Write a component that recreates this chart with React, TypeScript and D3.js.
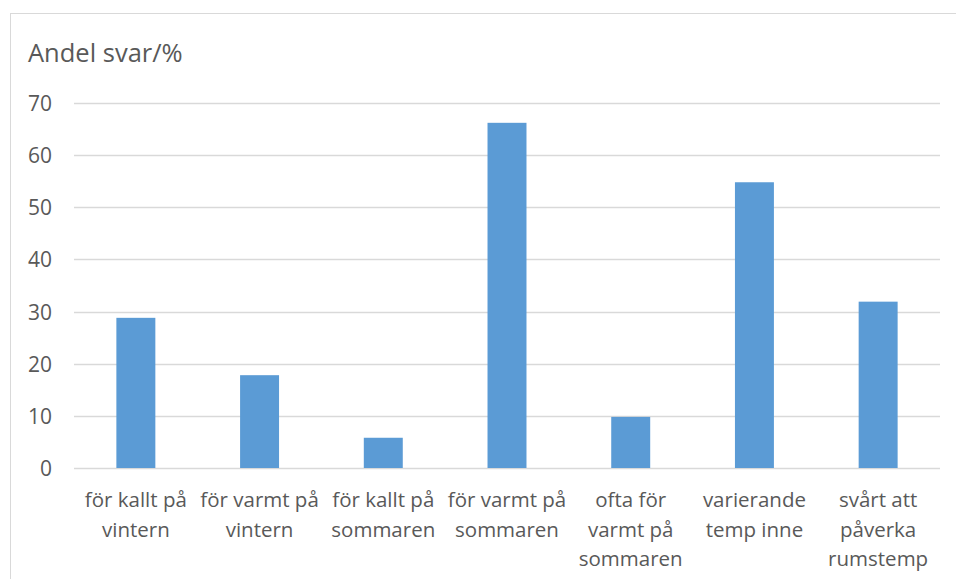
import * as d3 from "d3";

const categories = [
  "för kallt på vintern",
  "för varmt på vintern",
  "för kallt på sommaren",
  "för varmt på sommaren",
  "ofta för varmt på sommaren",
  "varierande temp inne",
  "svårt att påverka rumstemp",
];
// tick label lines as wrapped in the original
const labelLines = [
  ["för kallt på", "vintern"],
  ["för varmt på", "vintern"],
  ["för kallt på", "sommaren"],
  ["för varmt på", "sommaren"],
  ["ofta för", "varmt på", "sommaren"],
  ["varierande", "temp inne"],
  ["svårt att", "påverka", "rumstemp"],
];
const values = [28.8, 17.8, 5.8, 66.2, 9.8, 54.8, 31.9];
const yTicks = [0, 10, 20, 30, 40, 50, 60, 70];

const WIDTH = 956;
const HEIGHT = 579;
const PLOT = { left: 74, right: 940, top: 103, bottom: 468 };
const TEXT = "#595959";
const GRID = "#d9d9d9";
const FONT = "'Open Sans', sans-serif";

export default function App() {
  const xScale = d3
    .scaleBand()
    .domain(categories)
    .range([PLOT.left, PLOT.right])
    .paddingInner(0.685)
    .paddingOuter(0.3425);

  const yScale = d3.scaleLinear().domain([0, 70]).range([PLOT.bottom, PLOT.top]);

  return (
    <svg
      width={WIDTH}
      height={HEIGHT}
      style={{ position: "absolute", left: 0, top: 0, background: "white" }}
    >
      <rect x={10.5} y={13.5} width={980} height={620} fill="white" stroke={GRID} />
      <text x={28} y={62} fontFamily={FONT} fontSize={25.5} fill={TEXT}>
        Andel svar/%
      </text>

      {yTicks.map((t) => (
        <g key={t}>
          <line
            x1={PLOT.left}
            x2={PLOT.right}
            y1={Math.round(yScale(t)) + 0.5}
            y2={Math.round(yScale(t)) + 0.5}
            stroke={GRID}
            strokeWidth={1.5}
          />
          <text
            x={52}
            y={yScale(t)}
            textAnchor="end"
            dominantBaseline="central"
            fontFamily={FONT}
            fontSize={21}
            fill={TEXT}
          >
            {t}
          </text>
        </g>
      ))}

      {values.map((v, i) => (
        <rect
          key={i}
          x={xScale(categories[i])}
          y={yScale(v)}
          width={xScale.bandwidth()}
          height={yScale(0) - yScale(v)}
          fill="#5b9bd5"
        />
      ))}

      {categories.map((c, i) => {
        const cx = (xScale(c) ?? 0) + xScale.bandwidth() / 2;
        return (
          <text
            key={c}
            x={cx}
            y={507}
            textAnchor="middle"
            fontFamily={FONT}
            fontSize={20.5}
            fill={TEXT}
          >
            {labelLines[i].map((line, j) => (
              <tspan key={j} x={cx} dy={j === 0 ? 0 : 29.5}>
                {line}
              </tspan>
            ))}
          </text>
        );
      })}
    </svg>
  );
}
